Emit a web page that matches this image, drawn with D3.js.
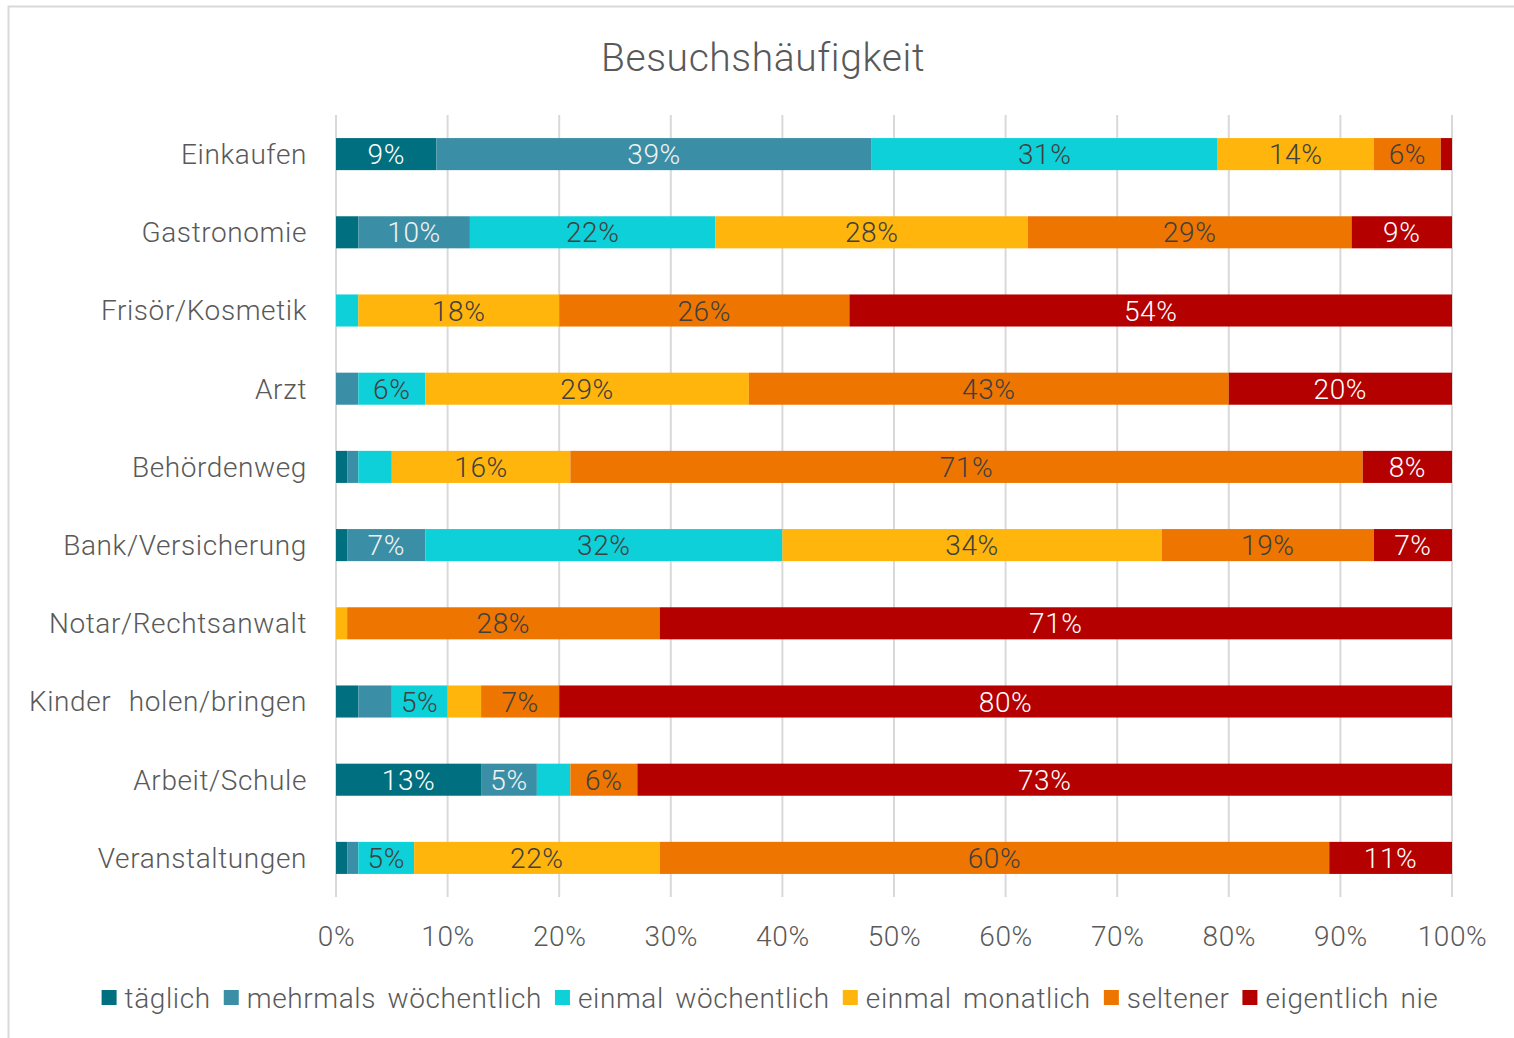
<!DOCTYPE html>
<html><head><meta charset="utf-8">
<script src="https://cdn.jsdelivr.net/npm/d3@7"></script>
<style>
body{margin:0;background:#fff;}
svg{display:block;}
text{font-family:Roboto, "Noto Sans", sans-serif;font-weight:300;letter-spacing:0.6px;word-spacing:8px;}
</style></head>
<body><svg id="chart" width="1514" height="1038"></svg>
<script>
const categories = ["Einkaufen","Gastronomie","Frisör/Kosmetik","Arzt","Behördenweg","Bank/Versicherung","Notar/Rechtsanwalt","Kinder holen/bringen","Arbeit/Schule","Veranstaltungen"];
const seriesNames = ["täglich","mehrmals wöchentlich","einmal wöchentlich","einmal monatlich","seltener","eigentlich nie"];
const taeglich   = [9, 2, 0, 0, 1, 1, 0, 2, 13, 1];
const mehrmals   = [39,10, 0, 2, 1, 7, 0, 3, 5, 1];
const einmalWoch = [31,22, 2, 6, 3,32, 0, 5, 3, 5];
const monatlich  = [14,28,18,29,16,34, 1, 3, 0,22];
const seltener   = [6, 29,26,43,71,19,28, 7, 6,60];
const nie        = [1,  9,54,20, 8, 7,71,80,73,11];
const tickValues = [0,0.1,0.2,0.3,0.4,0.5,0.6,0.7,0.8,0.9,1];
const colors = ["#006f80","#3a8fa6","#0dd0d9","#ffb50b","#ee7500","#b50000"];
const labelColors = ["#ffffff","#f2f2f2","#404040","#404040","#404040","#ffffff"];

const seriesValues = [taeglich, mehrmals, einmalWoch, monatlich, seltener, nie];
const rows = categories.map((c,i)=>{const r={cat:c}; seriesNames.forEach((s,j)=>r[s]=seriesValues[j][i]/100); return r;});
const stacked = d3.stack().keys(seriesNames)(rows);

const svg = d3.select("#chart");
svg.append("rect").attr("x",8.5).attr("y",6.5).attr("width",1530).attr("height",1060)
  .attr("fill","none").attr("stroke","#d9d9d9").attr("stroke-width",2);

const x = d3.scaleLinear().domain([0,1]).range([336,1452]);
const y = d3.scaleBand().domain(categories).range([115,897]).paddingInner(0.59).paddingOuter(0.295);

svg.append("text").attr("x",763).attr("y",71).attr("text-anchor","middle")
  .attr("font-size",39).attr("fill","#595959").text("Besuchshäufigkeit");

svg.append("g").selectAll("line").data(tickValues).join("line")
  .attr("x1",d=>x(d)).attr("x2",d=>x(d)).attr("y1",115).attr("y2",897)
  .attr("stroke","#d9d9d9").attr("stroke-width",2);

const xAxis = d3.axisBottom(x).tickValues(tickValues).tickFormat(d3.format(".0%")).tickSize(0).tickPadding(0);
const gx = svg.append("g").attr("transform","translate(0,946)").call(xAxis);
gx.select(".domain").remove();
gx.selectAll("text").attr("font-size",28).attr("fill","#595959").attr("dy","0").style("font-family","Roboto").style("font-weight","300");

const yAxis = d3.axisLeft(y).tickSize(0).tickPadding(0);
const gy = svg.append("g").attr("transform","translate(307,0)").call(yAxis);
gy.select(".domain").remove();
gy.selectAll("text").attr("font-size",28).attr("fill","#595959").attr("dy","0.35em").style("font-family","Roboto").style("font-weight","300").style("word-spacing","10px");

const layers = svg.append("g").selectAll("g").data(stacked).join("g").attr("fill",(d,i)=>colors[i]);
layers.selectAll("rect").data(d=>d.map(v=>({v, cat:v.data.cat}))).join("rect")
  .attr("x",d=>x(d.v[0])).attr("width",d=>Math.max(0,x(d.v[1])-x(d.v[0])))
  .attr("y",d=>y(d.cat)).attr("height",y.bandwidth());

svg.append("g").selectAll("g").data(stacked).join("g")
  .attr("fill",(d,i)=>labelColors[i])
  .selectAll("text").data(d=>d.map(v=>({v,cat:v.data.cat})).filter(d=>d.v[1]-d.v[0]>=0.045)).join("text")
  .attr("x",d=>(x(d.v[0])+x(d.v[1]))/2).attr("y",d=>y(d.cat)+y.bandwidth()/2)
  .attr("dy","0.36em").attr("text-anchor","middle").attr("font-size",28)
  .text(d=>Math.round((d.v[1]-d.v[0])*100)+"%");

const lg = svg.append("g");
let cx = 0;
seriesNames.forEach((s,i)=>{
  const g = lg.append("g").attr("transform",`translate(${cx},0)`);
  g.append("rect").attr("x",0).attr("y",-8).attr("width",15).attr("height",15).attr("fill",colors[i]);
  const t = g.append("text").attr("x",23).attr("y",0).attr("dy","0.35em").attr("font-size",28)
    .attr("fill","#595959").style("word-spacing","4px").text(s);
  const w = t.node().getComputedTextLength();
  cx += 23 + w + 13;
});
const total = cx - 13;
lg.attr("transform",`translate(${770-total/2},998)`);
</script></body></html>
